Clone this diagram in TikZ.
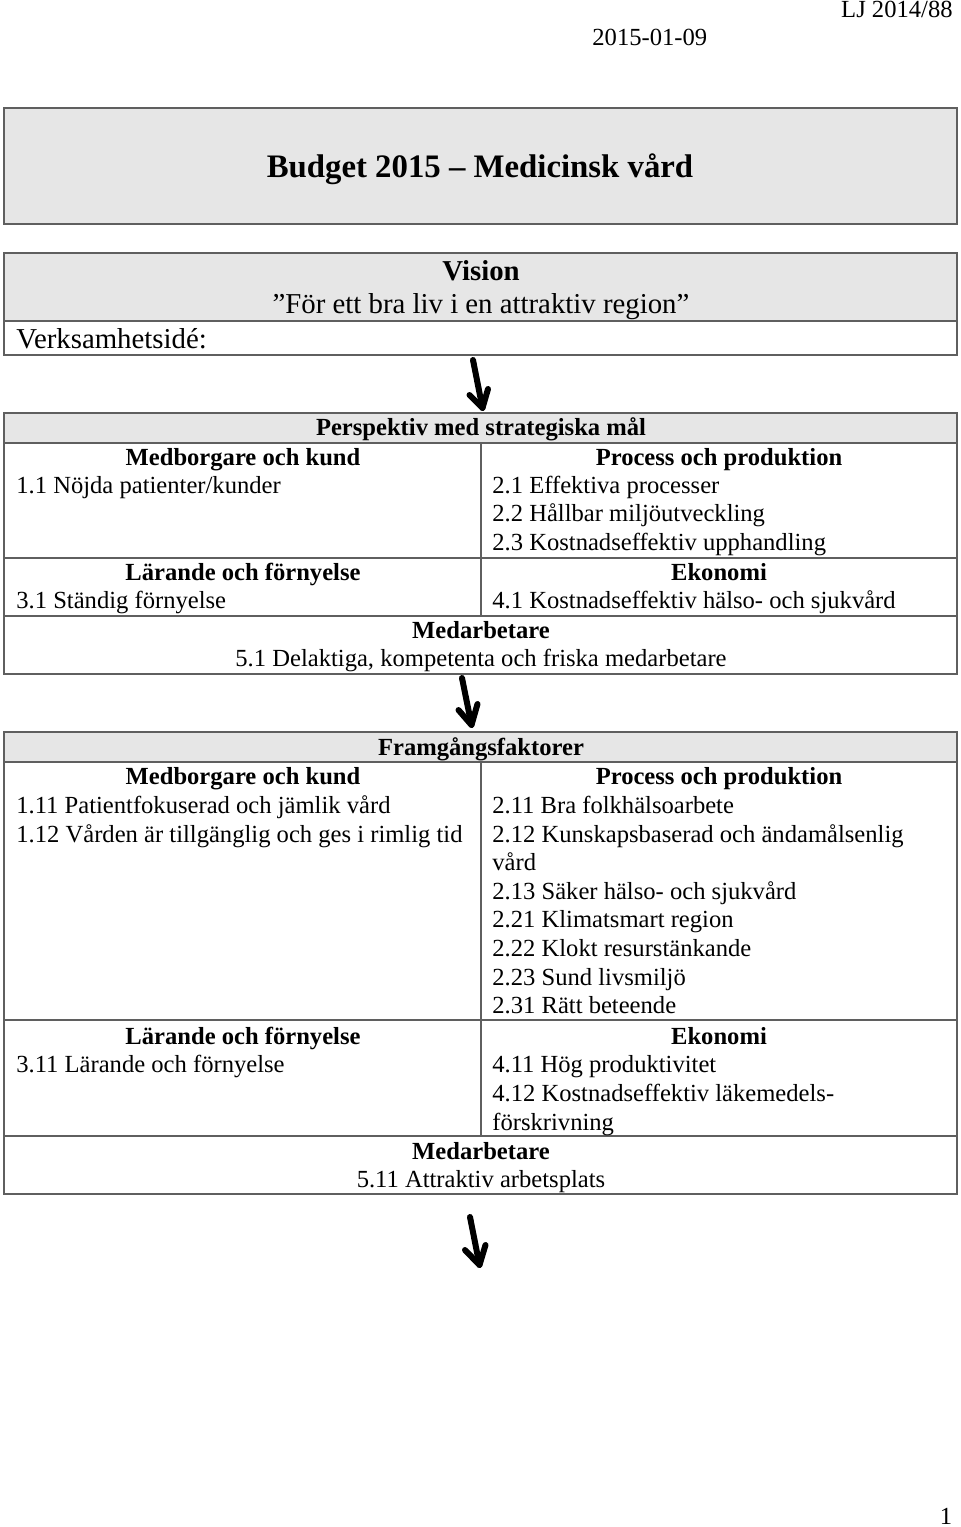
\documentclass[tikz,border=0pt]{standalone}
\usepackage{fontspec}
\setmainfont{Liberation Serif}
\definecolor{hdrgray}{HTML}{E6E6E6}
\definecolor{rulecol}{HTML}{5F5F5F}
\begin{document}
\begin{tikzpicture}[x=0.5pt,y=-0.5pt,
  frame/.style={draw=rulecol, line width=0.8pt},
  hdrfill/.style={fill=hdrgray},
  tl/.style={inner sep=0pt, anchor=base west, font=\fontsize{12.3}{14}\selectfont},
  tc/.style={inner sep=0pt, anchor=base, font=\fontsize{12.3}{14}\selectfont},
  tb/.style={inner sep=0pt, anchor=base, font=\fontsize{12.3}{14}\selectfont\bfseries},
  arrowline/.style={line width=3pt, line cap=round, line join=round}]
\useasboundingbox (0,0) rectangle (960,1527);

% header texts
\node[inner sep=0pt, anchor=base east, font=\fontsize{12.3}{14}\selectfont] (ref) at (953,17) {LJ 2014/88};
\node[tl] (date) at (592,45) {2015-01-09};

% title box
\path[hdrfill, frame] (4,108) rectangle (957,224);
\node[inner sep=0pt, anchor=base, font=\fontsize{16.4}{18}\selectfont\bfseries] (title) at (480,177) {Budget 2015 – Medicinsk vård};

% vision box
\path[hdrfill] (4,253) rectangle (957,321);
\draw[frame] (4,253) rectangle (957,355);
\draw[frame] (4,321) -- (957,321);
\node[inner sep=0pt, anchor=base, font=\fontsize{14.4}{16}\selectfont\bfseries] (vision) at (481,280) {Vision};
\node[inner sep=0pt, anchor=base, font=\fontsize{14.4}{16}\selectfont] (visiontxt) at (481,313) {”För ett bra liv i en attraktiv region”};
\node[inner sep=0pt, anchor=base west, font=\fontsize{14.4}{16}\selectfont] (vidé) at (16,348) {Verksamhetsidé:};

% perspektiv table
\path[hdrfill] (4,413) rectangle (957,443);
\draw[frame] (4,413) rectangle (957,674);
\draw[frame] (4,443) -- (957,443);
\draw[frame] (4,558) -- (957,558);
\draw[frame] (4,616) -- (957,616);
\draw[frame] (481,443) -- (481,616);
\node[tb] (p0) at (481,435) {Perspektiv med strategiska mål};
\node[tb] (p1h) at (243,465) {Medborgare och kund};
\node[tl] (p11) at (16,493) {1.1 Nöjda patienter/kunder};
\node[tb] (p2h) at (719,465) {Process och produktion};
\node[tl] (p21) at (492,493) {2.1 Effektiva processer};
\node[tl] (p22) at (492,521.6) {2.2 Hållbar miljöutveckling};
\node[tl] (p23) at (492,550) {2.3 Kostnadseffektiv upphandling};
\node[tb] (p3h) at (243,580) {Lärande och förnyelse};
\node[tl] (p31) at (16,608.4) {3.1 Ständig förnyelse};
\node[tb] (p4h) at (719,580) {Ekonomi};
\node[tl] (p41) at (492,608.4) {4.1 Kostnadseffektiv hälso- och sjukvård};
\node[tb] (p5h) at (481,638.4) {Medarbetare};
\node[tc] (p51) at (481,666.8) {5.1 Delaktiga, kompetenta och friska medarbetare};

% framgångsfaktorer table
\path[hdrfill] (4,732) rectangle (957,762);
\draw[frame] (4,732) rectangle (957,1194);
\draw[frame] (4,762) -- (957,762);
\draw[frame] (4,1020) -- (957,1020);
\draw[frame] (4,1136) -- (957,1136);
\draw[frame] (481,762) -- (481,1136);
\node[tb] (f0) at (481,755) {Framgångsfaktorer};
\node[tb] (f1h) at (243,784.5) {Medborgare och kund};
\node[tl] (f111) at (16,813.5) {1.11 Patientfokuserad och jämlik vård};
\node[tl] (f112) at (16,842) {1.12 Vården är tillgänglig och ges i rimlig tid};
\node[tb] (f2h) at (719,784.5) {Process och produktion};
\node[tl] (f211) at (492,813.5) {2.11 Bra folkhälsoarbete};
\node[tl] (f212) at (492,842) {2.12 Kunskapsbaserad och ändamålsenlig};
\node[tl] (f212b) at (492,870.5) {vård};
\node[tl] (f213) at (492,899) {2.13 Säker hälso- och sjukvård};
\node[tl] (f221) at (492,927.8) {2.21 Klimatsmart region};
\node[tl] (f222) at (492,956.4) {2.22 Klokt resurstänkande};
\node[tl] (f223) at (492,985) {2.23 Sund livsmiljö};
\node[tl] (f231) at (492,1013.6) {2.31 Rätt beteende};
\node[tb] (f3h) at (243,1044.2) {Lärande och förnyelse};
\node[tl] (f311) at (16,1072.8) {3.11 Lärande och förnyelse};
\node[tb] (f4h) at (719,1044.2) {Ekonomi};
\node[tl] (f411) at (492,1072.8) {4.11 Hög produktivitet};
\node[tl] (f412) at (492,1101.4) {4.12 Kostnadseffektiv läkemedels-};
\node[tl] (f412b) at (492,1130) {förskrivning};
\node[tb] (f5h) at (481,1159) {Medarbetare};
\node[tc] (f511) at (481,1187.6) {5.11 Attraktiv arbetsplats};

% page number
\node[inner sep=0pt, anchor=base, font=\fontsize{12.3}{14}\selectfont] (pageno) at (946,1524) {1};

% arrows
\coordinate (a1s) at (473,360);
\coordinate (a1t) at (482.5,408);
\coordinate (a1l) at (469.5,395);
\coordinate (a1r) at (488,389);
\draw[arrowline] (a1s) -- (a1t);
\draw[arrowline] (a1l) -- (a1t) -- (a1r);

\coordinate (a2s) at (462,678);
\coordinate (a2t) at (471.5,725);
\coordinate (a2l) at (458.5,710);
\coordinate (a2r) at (477.5,704);
\draw[arrowline] (a2s) -- (a2t);
\draw[arrowline] (a2l) -- (a2t) -- (a2r);

\coordinate (a3s) at (470,1217);
\coordinate (a3t) at (479.5,1265);
\coordinate (a3l) at (465,1250);
\coordinate (a3r) at (485.5,1245);
\draw[arrowline] (a3s) -- (a3t);
\draw[arrowline] (a3l) -- (a3t) -- (a3r);
\end{tikzpicture}
\end{document}
